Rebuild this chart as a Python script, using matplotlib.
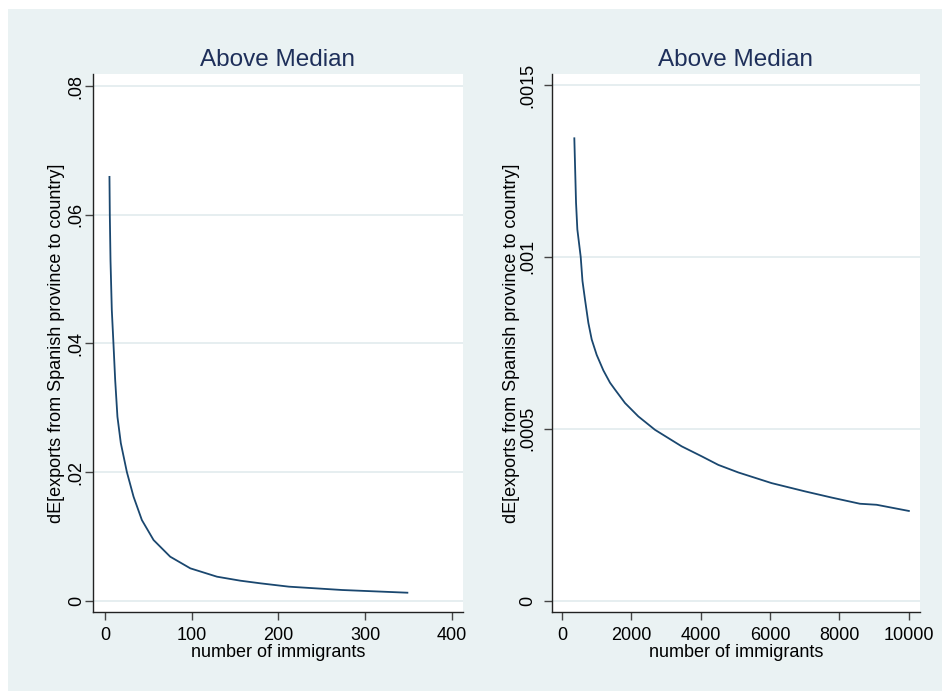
#!/usr/bin/env python3
"""Two-panel marginal effect curves (Stata s2color look)."""

import matplotlib
matplotlib.use("Agg")
import matplotlib.pyplot as plt
from matplotlib.patches import Rectangle

plt.rcParams["font.family"] = ["Liberation Sans", "DejaVu Sans"]

# left panel: number of immigrants vs dE
left_x = [5.0, 5.4, 6.2, 7.7, 9.6, 11.6, 14.2, 18.1, 25.1, 32.8, 42.4, 55.9,
          75.1, 98.3, 129.1, 156.0, 179.2, 212.0, 273.6, 348.8]
left_y = [0.0659, 0.0600, 0.0529, 0.0452, 0.0400, 0.0343, 0.0286, 0.0245,
          0.0200, 0.01617, 0.01254, 0.00943, 0.00684, 0.00503, 0.00373,
          0.00311, 0.00270, 0.00218, 0.00166, 0.00124]
left_yticks = [0, 0.02, 0.04, 0.06, 0.08]
left_yticklabels = ["0", ".02", ".04", ".06", ".08"]
left_xticks = [0, 100, 200, 300, 400]

# right panel
right_x = [355, 404, 442, 539, 590, 663, 760, 856, 1000, 1192, 1385,
           1529, 1817, 2202, 2683, 3452, 4029, 4510, 5087, 6048, 7010, 7779,
           8596, 9077, 10009]
right_y = [0.001345, 0.001158, 0.001080, 0.001000, 0.000930,
           0.000876, 0.000808, 0.000760, 0.000715, 0.000670, 0.000634,
           0.000614, 0.000575, 0.000536, 0.000497, 0.000449, 0.000420,
           0.000395, 0.000373, 0.000342, 0.000318, 0.000300, 0.000282,
           0.000279, 0.000261]
right_yticks = [0, 0.0005, 0.001, 0.0015]
right_yticklabels = ["0", ".0005", ".001", ".0015"]
right_xticks = [0, 2000, 4000, 6000, 8000, 10000]

title = "Above Median"
xlabel = "number of immigrants"
ylabel = "dE[exports from Spanish province to country]"

BG = "#eaf2f3"
GRID = "#e2ebee"
LINE = "#1a476f"
TITLE = "#1e2f5a"

fig = plt.figure(figsize=(9.42, 6.91), dpi=100)
fig.patch.set_facecolor("white")
fig.patches.append(Rectangle((8 / 942, 0), 1, (691 - 9) / 691,
                             transform=fig.transFigure, facecolor=BG,
                             edgecolor="none", zorder=-10))


def panel(rect, xs, ys, xlim, ylim, xticks, yticks, yticklabels, label_x, ypad):
    ax = fig.add_axes(rect)
    ax.set_facecolor("white")
    ax.plot(xs, ys, color=LINE, lw=1.3, zorder=3)
    ax.set_xlim(*xlim)
    ax.set_ylim(*ylim)
    ax.set_xticks(xticks)
    ax.set_yticks(yticks)
    ax.set_yticklabels(yticklabels)
    ax.grid(axis="y", color=GRID, lw=1.2, zorder=1)
    for s in ("top", "right"):
        ax.spines[s].set_visible(False)
    for s in ("left", "bottom"):
        ax.spines[s].set_color("#222222")
        ax.spines[s].set_linewidth(1.0)
    ax.tick_params(axis="both", length=5.5, width=1.0, color="#444444",
                   labelsize=13, pad=5)
    ax.tick_params(axis="y", labelrotation=90, pad=ypad)
    for lbl in ax.get_yticklabels():
        lbl.set_va("center")
        lbl.set_ha("center")
    ax.set_title(title, fontsize=17.5, color=TITLE, pad=5.5)
    ax.set_xlabel(xlabel, fontsize=13, labelpad=0)
    ax.set_ylabel(ylabel, fontsize=13)
    ax.yaxis.set_label_coords(label_x, 0.5)
    return ax


panel([93 / 942, 79 / 691, 370 / 942, 538 / 691], left_x, left_y,
      (-14, 413), (-0.00176, 0.0819), left_xticks, left_yticks,
      left_yticklabels, -0.076, 6.5)

panel([551.7 / 942, 79 / 691, 368.3 / 942, 538 / 691], right_x, right_y,
      (-298, 10330), (-0.0000329, 0.001532), right_xticks, right_yticks,
      right_yticklabels, -0.086, 11.5)

fig.savefig("out.png", dpi=100)
